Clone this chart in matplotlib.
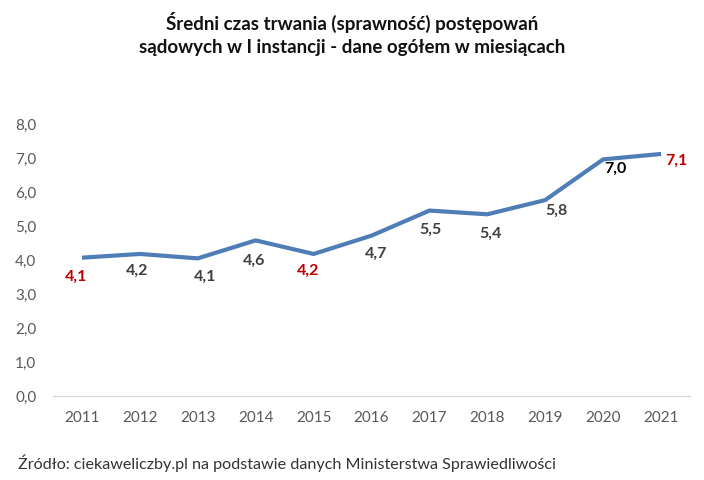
import matplotlib
matplotlib.use("Agg")
import matplotlib.pyplot as plt

years = [2011, 2012, 2013, 2014, 2015, 2016, 2017, 2018, 2019, 2020, 2021]
values = [4.08, 4.19, 4.06, 4.59, 4.19, 4.73, 5.47, 5.36, 5.78, 6.98, 7.14]
label_colors = ["#c00000", "#404040", "#404040", "#404040", "#c00000", "#404040",
                "#404040", "#404040", "#404040", "#000000", "#c00000"]
# label offsets in points (dx, dy)
label_offsets = [(-4, -14), (-2, -12), (5, -13), (-1, -15), (-4, -12), (3, -13),
                 (1, -14), (2, -14), (8, -8), (9, -7), (11, -5)]
yticks = [0, 1, 2, 3, 4, 5, 6, 7, 8]

plt.rcParams['font.family'] = ['Lato', 'DejaVu Sans']

fig = plt.figure(figsize=(7.04, 4.8), dpi=100)
ax = fig.add_axes([53/704, 0.175, (690-53)/704, 0.74-0.175])

ax.plot(years, values, color="#4f7db5", linewidth=3.0, solid_joinstyle='miter', solid_capstyle='butt')

for x, v, c, (dx, dy) in zip(years, values, label_colors, label_offsets):
    ax.annotate(f"{v:.1f}".replace(".", ","), (x, v), xytext=(dx, dy),
                textcoords="offset points", ha="center", va="center",
                fontsize=11.5, fontweight="bold", color=c)

ax.set_xlim(2010.5, 2021.5)
ax.set_ylim(0, 8)
ax.set_yticks(yticks)
ax.set_yticklabels([f"{t:.1f}".replace(".", ",") for t in yticks])
ax.set_xticks(years)
ax.set_xticklabels([str(y) for y in years])
ax.tick_params(axis='both', length=0, labelsize=11, labelcolor="#595959")
ax.tick_params(axis='y', pad=12)
ax.tick_params(axis='x', pad=11)
for s in ["top", "right", "left"]:
    ax.spines[s].set_visible(False)
ax.spines["bottom"].set_color("#d9d9d9")
ax.spines["bottom"].set_linewidth(1.0)

fig.text(0.5, 0.975, "Średni czas trwania (sprawność) postępowań\nsądowych w I instancji - dane ogółem w miesiącach",
         ha="center", va="top", fontsize=13.5, fontweight="bold", color="#111111", linespacing=1.45)
fig.text(18/704, 1 - 463/480, "Źródło: ciekaweliczby.pl na podstawie danych Ministerstwa Sprawiedliwości",
         ha="left", va="center", fontsize=11.6, color="#333333")

fig.savefig("out.png", dpi=100)
